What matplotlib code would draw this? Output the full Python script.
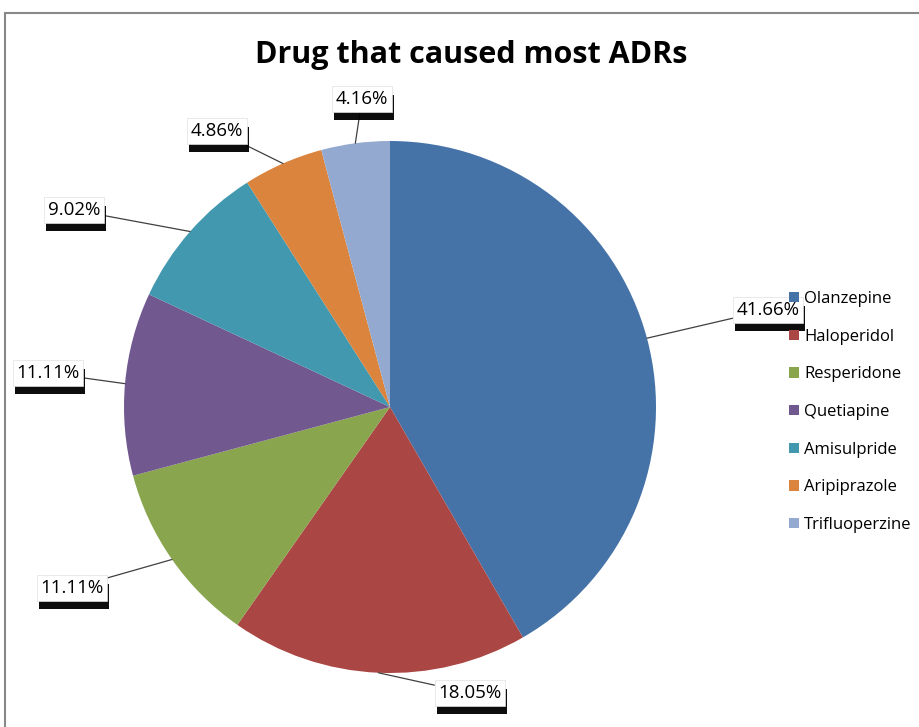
import numpy as np
import matplotlib.pyplot as plt
import matplotlib.patheffects as pe
from matplotlib.patches import Rectangle

drugs = ["Olanzepine", "Haloperidol", "Resperidone", "Quetiapine",
         "Amisulpride", "Aripiprazole", "Trifluoperzine"]
shares = [41.66, 18.05, 11.11, 11.11, 9.02, 4.86, 4.16]
labels = ["41.66%", "18.05%", "11.11%", "11.11%", "9.02%", "4.86%", "4.16%"]
colors = ["#4572A7", "#AA4643", "#89A54E", "#71588F", "#4198AF", "#DB843D", "#93A9CF"]

# label box centres in pixels (x, y from top)
label_px = [(768, 310), (470, 693), (72, 588), (48, 373), (74, 210), (217, 131), (362, 99)]

W, H = 919, 727
cx, cy, R = 390, 407, 266

plt.rcParams['font.family'] = ['Open Sans', 'DejaVu Sans']

fig = plt.figure(figsize=(W / 100, H / 100), dpi=100)
ax = fig.add_axes([0, 0, 1, 1])

fig.patches.append(Rectangle((5 / W, -0.1), 1.2, 1 - 13 / H + 0.1, transform=fig.transFigure,
                             fill=False, edgecolor="#888888", linewidth=1.5))

wedges, _ = ax.pie(shares, colors=colors, startangle=90, counterclock=False, radius=1,
                   center=(0, 0), frame=True)
ax.set_xlim(-cx / R, (W - cx) / R)
ax.set_ylim(-(H - cy) / R, cy / R)
ax.set_aspect("auto")
ax.axis("off")

total = sum(shares)
start = 90.0
for w, lab, (px, py) in zip(shares, labels, label_px):
    span = w / total * 360
    mid = np.deg2rad(start - span / 2)
    start -= span
    ex, ey = np.cos(mid), np.sin(mid)
    lx, ly = (px - cx) / R, (cy - py) / R
    t = ax.annotate(lab, xy=(ex, ey), xytext=(lx, ly), ha="center", va="center",
                    fontsize=13.5, color="black",
                    bbox=dict(boxstyle="square,pad=0.2", fc="white", ec="#e0e0e0", lw=0.5),
                    arrowprops=dict(arrowstyle="-", color="#404040", lw=0.9,
                                    shrinkA=0, shrinkB=0))
    t.get_bbox_patch().set_path_effects([pe.SimplePatchShadow(offset=(1.5, -6), shadow_rgbFace="black", alpha=0.95),
                                         pe.Normal()])

fig.text(471 / W, 1 - 55 / H, "Drug that caused most ADRs", ha="center", va="center",
         fontsize=22, fontweight="bold")

leg = ax.legend(wedges, drugs, loc="upper left", bbox_to_anchor=(774 / W, 1 - 276 / H),
                bbox_transform=fig.transFigure, frameon=False, fontsize=12,
                handlelength=0.6, handleheight=0.6, handletextpad=0.3, labelspacing=1.3)

fig.savefig("out.png", dpi=100)
